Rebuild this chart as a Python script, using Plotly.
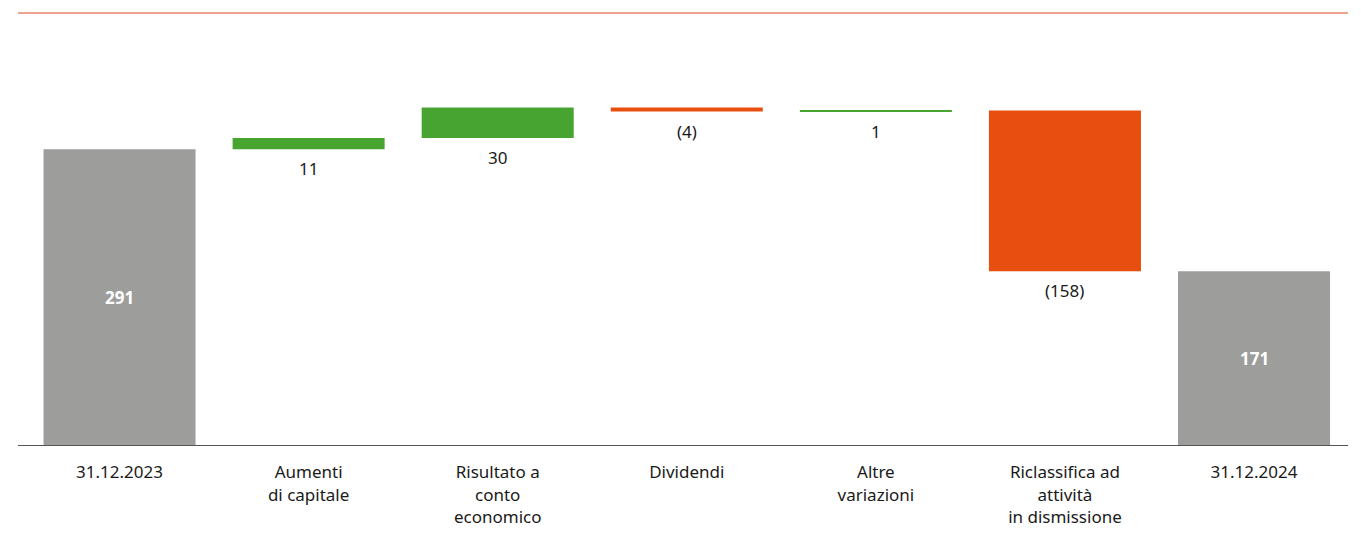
import plotly.graph_objects as go

categories = ["31.12.2023", "Aumenti<br>di capitale", "Risultato a<br>conto<br>economico",
              "Dividendi", "Altre<br>variazioni", "Riclassifica ad<br>attività<br>in dismissione",
              "31.12.2024"]
values = [291, 11, 30, -4, 1, -158, 171]
measures = ["absolute", "relative", "relative", "relative", "relative", "relative", "total"]
labels = ["291", "11", "30", "(4)", "1", "(158)", "171"]

GREEN = "#48A431"
ORANGE = "#E84E0F"
GREY = "#9D9D9B"
FONT = "Noto Sans"

x = list(range(len(categories)))
fig = go.Figure(go.Waterfall(
    x=x, y=values, measure=measures,
    increasing=dict(marker=dict(color=GREEN)),
    decreasing=dict(marker=dict(color=ORANGE)),
    totals=dict(marker=dict(color=GREY)),
    connector=dict(visible=False),
    width=0.804,
    textposition="none",
    hoverinfo="skip",
))

# annotations
cum = 0
for i, (v, m, lab) in enumerate(zip(values, measures, labels)):
    if m == "absolute":
        lo, hi = 0, v
        cum = v
    elif m == "total":
        lo, hi = 0, cum
    else:
        lo, hi = min(cum, cum + v), max(cum, cum + v)
        cum += v
    if m in ("absolute", "total"):
        fig.add_annotation(x=i, y=(lo + hi) / 2, text="<b>" + lab + "</b>", showarrow=False,
                           font=dict(color="white", size=17, family=FONT))
    else:
        fig.add_annotation(x=i, y=lo, text=lab, showarrow=False, yanchor="top", yshift=-6,
                           font=dict(color="#1a1a1a", size=17, family=FONT))

fig.add_shape(type="line", xref="paper", yref="paper", x0=0, x1=1, y0=1, y1=1,
              line=dict(color="#E8866A", width=1.5))

fig.update_layout(
    width=1353, height=538,
    margin=dict(l=10, r=13, t=5, b=101),
    paper_bgcolor="white", plot_bgcolor="white",
    showlegend=False,
    font=dict(family=FONT, size=17, color="#1a1a1a"),
)
fig.update_xaxes(tickmode="array", tickvals=x, ticktext=categories, range=[-0.537, 6.497],
                 showgrid=False, zeroline=False, showline=True, linecolor="#555555", linewidth=1,
                 ticks="outside", ticklen=12, tickcolor="rgba(0,0,0,0)",
                 tickfont=dict(size=17, family=FONT, color="#1a1a1a"))
fig.update_yaxes(range=[0, 425], showgrid=False, zeroline=False, showticklabels=False, showline=False)

fig.write_html("out.html")
